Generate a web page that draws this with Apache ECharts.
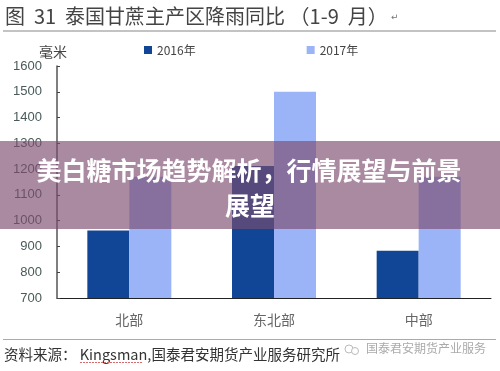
<!DOCTYPE html>
<html>
<head>
<meta charset="utf-8">
<style>
  html, body { margin: 0; padding: 0; background: #fff; }
  #main { width: 500px; height: 371px; }
</style>
<script src="https://cdn.jsdelivr.net/npm/echarts@6/dist/echarts.min.js"></script>
</head>
<body>
<div id="main"></div>
<script>
const categories = ["北部", "东北部", "中部"];
const rain2016 = [962, 1212, 883];
const rain2017 = [1170, 1500, 1170];
const seriesNames = ["2016年", "2017年"];
const chartTitle = "图  31  泰国甘蔗主产区降雨同比 （1-9  月）";
const sourceText = "资料来源： Kingsman,国泰君安期货产业服务研究所";
const watermark = "国泰君安期货产业服务";
const bannerLines = ["美白糖市场趋势解析，行情展望与前景", "展望"];

const cjk = '"Noto Sans CJK SC", "Liberation Serif", serif';
const myChart = echarts.init(document.getElementById("main"));

var option = {
  backgroundColor: "#fff",
  animation: false,
  legend: {
    left: 139,
    top: 39,
    itemWidth: 8,
    itemHeight: 8,
    itemGap: 111,
    icon: "rect",
    textStyle: { fontFamily: cjk, fontSize: 12, color: "#444" },
    data: seriesNames,
  },
  grid: { left: 57, right: 9, top: 66, bottom: 73 },
  xAxis: {
    type: "category",
    data: categories,
    axisLine: { lineStyle: { color: "#222", width: 1 } },
    axisTick: { inside: true, length: 4, lineStyle: { color: "#222" } },
    axisLabel: { color: "#666", fontSize: 14, margin: 15, fontFamily: "Noto Sans CJK SC" },
  },
  yAxis: {
    type: "value",
    min: 700,
    max: 1600,
    interval: 100,
    name: "毫米",
    nameLocation: "end",
    nameGap: 7,
    nameTextStyle: { color: "#444", fontSize: 14, fontFamily: cjk, padding: [0, 8, 0, 0] },
    axisLine: { show: true, lineStyle: { color: "#555", width: 1.5 } },
    axisTick: { show: true, inside: true, length: 3, lineStyle: { color: "#444" } },
    splitLine: { show: false },
    axisLabel: {
      color: "#4a5a5a",
      fontSize: 13,
      margin: 15,
      fontFamily: "Liberation Sans",
      formatter: function (v) {
        return String(v);
      },
    },
  },
  series: [
    {
      name: seriesNames[0],
      type: "bar",
      data: rain2016,
      barWidth: 42,
      barGap: 0,
      itemStyle: { color: "#114595" },
    },
    {
      name: seriesNames[1],
      type: "bar",
      data: rain2017,
      barWidth: 42,
      itemStyle: { color: "#9bb3f7" },
    },
  ],
  graphic: [
    { type: "text", x: 5, y: 6, style: { text: chartTitle, fontFamily: cjk, fontSize: 20, fill: "#444" } },
    { type: "text", x: 391, y: 13, style: { text: "↵", fontFamily: "DejaVu Sans", fontSize: 9, fill: "#777" } },
    { type: "rect", shape: { x: 3, y: 30.5, width: 493, height: 1 }, style: { fill: "#888" } },
    { type: "rect", shape: { x: 3, y: 339, width: 493, height: 1 }, style: { fill: "#aaa" } },
    { type: "text", x: 4, y: 347, style: { text: sourceText, fontFamily: cjk, fontSize: 14.5, fill: "#333" } },
    { type: "line", z: 5, shape: { x1: 80, y1: 362.5, x2: 143, y2: 362.5 }, style: { stroke: "#d96a6a", lineWidth: 1, lineDash: [2, 1] } },
    { type: "circle", shape: { cx: 349, cy: 349, r: 4 }, style: { fill: "#fff", stroke: "#bbb", lineWidth: 1 } },
    { type: "circle", shape: { cx: 355, cy: 351, r: 3.5 }, style: { fill: "#fff", stroke: "#bbb", lineWidth: 1 } },
    { type: "text", x: 366, y: 342, style: { text: watermark, fontFamily: "Noto Sans CJK SC", fontSize: 12, fill: "#aaa" } },
    // translucent banner over the chart
    { type: "rect", z: 100, shape: { x: 0, y: 141, width: 500, height: 88 }, style: { fill: "rgba(125,75,110,0.65)" } },
    {
      type: "text", z: 101, x: 249, y: 170,
      style: { text: bannerLines[0], fontFamily: "Noto Sans CJK SC", fontWeight: "bold", fontSize: 25, align: "center", verticalAlign: "middle", fill: "#fff" },
    },
    {
      type: "text", z: 101, x: 250, y: 205,
      style: { text: bannerLines[1], fontFamily: "Noto Sans CJK SC", fontWeight: "bold", fontSize: 25, align: "center", verticalAlign: "middle", fill: "#fff" },
    },
  ],
};
myChart.setOption(option);
</script>
</body>
</html>
